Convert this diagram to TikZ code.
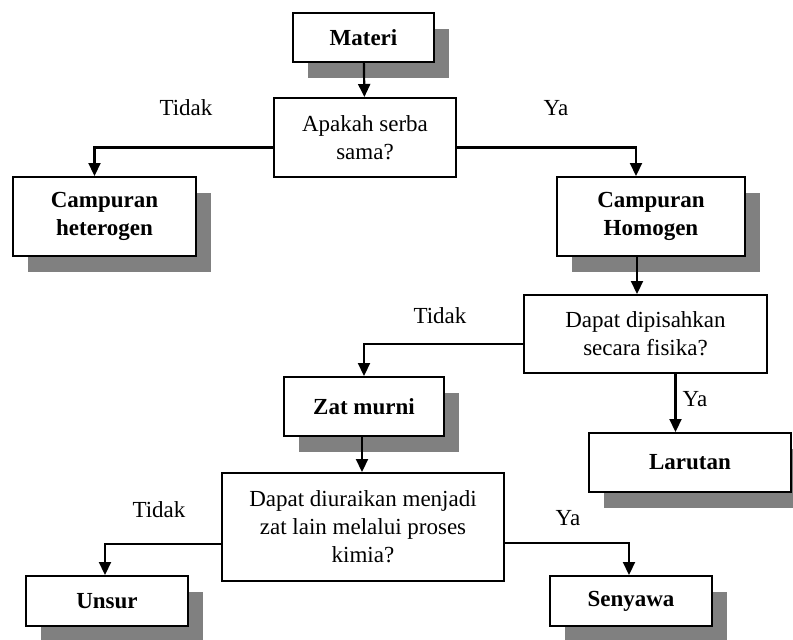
\documentclass[tikz,border=0pt]{standalone}
\usepackage{fontspec}
\setmainfont{Liberation Serif}
\usetikzlibrary{arrows.meta,shadows}

\begin{document}
\begin{tikzpicture}[x=1pt,y=-1pt,
	font=\fontsize{23}{28}\selectfont,
	box node/.style={rectangle,draw,line width=2pt,fill=white,inner sep=0pt,align=center,font=\fontsize{23}{28}\selectfont\bfseries,
		drop shadow={shadow xshift=15pt,shadow yshift=-16pt,fill=black!50,opacity=1}},
	ask node/.style={rectangle,draw,line width=2pt,fill=white,inner sep=0pt,align=center},
	arrow/.style={-{Triangle[length=13pt,width=12pt]},line width=2.2pt}
	]
	
	\useasboundingbox (0,0) rectangle (793,640);
	
	% kotak utama
	\node[box node,minimum width=141pt,minimum height=49pt] at (363.5,37.5) (materi) {Materi};
	\node[ask node,minimum width=182pt,minimum height=79pt] at (365,137.5) (tanya1) {Apakah serba\\sama?};
	\node[box node,minimum width=183pt,minimum height=79pt] at (104.5,216.5) (hetero) {Campuran\\heterogen};
	\node[box node,minimum width=188pt,minimum height=79pt] at (651,216.5) (homogen) {Campuran\\Homogen};
	\node[ask node,minimum width=243pt,minimum height=78pt] at (645.5,334) (tanya2) {Dapat dipisahkan\\secara fisika?};
	\node[box node,minimum width=160pt,minimum height=59pt] at (364,406.5) (zat) {Zat murni};
	\node[box node,minimum width=202pt,minimum height=59pt] at (690,462.5) (larutan) {Larutan};
	\node[ask node,minimum width=282pt,minimum height=108pt] at (363,527) (tanya3) {Dapat diuraikan menjadi\\zat lain melalui proses\\kimia?};
	\node[box node,minimum width=162pt,minimum height=50pt] at (107,601) (unsur) {Unsur};
	\node[box node,minimum width=162pt,minimum height=50pt] at (631,601) (senyawa) {Senyawa};
	
	% label jawaban
	\node at (186,108) (t1) {Tidak};
	\node at (556,108) (y1) {Ya};
	\node at (440,316) (t2) {Tidak};
	\node at (695,399) (y2) {Ya};
	\node at (159,510) (t3) {Tidak};
	\node at (568,518) (y3) {Ya};
	
	% panah
	\draw[arrow] (materi) -- (tanya1);
	\draw[arrow] ([yshift=-10pt]tanya1.west) -| ([xshift=-10pt]hetero.north);
	\draw[arrow] ([yshift=-10pt]tanya1.east) -| ([xshift=-15pt]homogen.north);
	\draw[arrow] ([xshift=-14pt]homogen.south) -- ([xshift=-14pt]homogen.south |- tanya2.north);
	\draw[arrow] ([yshift=-10pt]tanya2.west) -| (zat.north);
	\draw[arrow] ([xshift=30pt]tanya2.south) -- ([xshift=30pt]tanya2.south |- larutan.north);
	\draw[arrow] ([xshift=-2pt]zat.south) -- ([xshift=-2pt]zat.south |- tanya3.north);
	\draw[arrow] ([yshift=-17pt]tanya3.west) -| ([xshift=-2pt]unsur.north);
	\draw[arrow] ([yshift=-16pt]tanya3.east) -| ([xshift=-2pt]senyawa.north);
\end{tikzpicture}
\end{document}
